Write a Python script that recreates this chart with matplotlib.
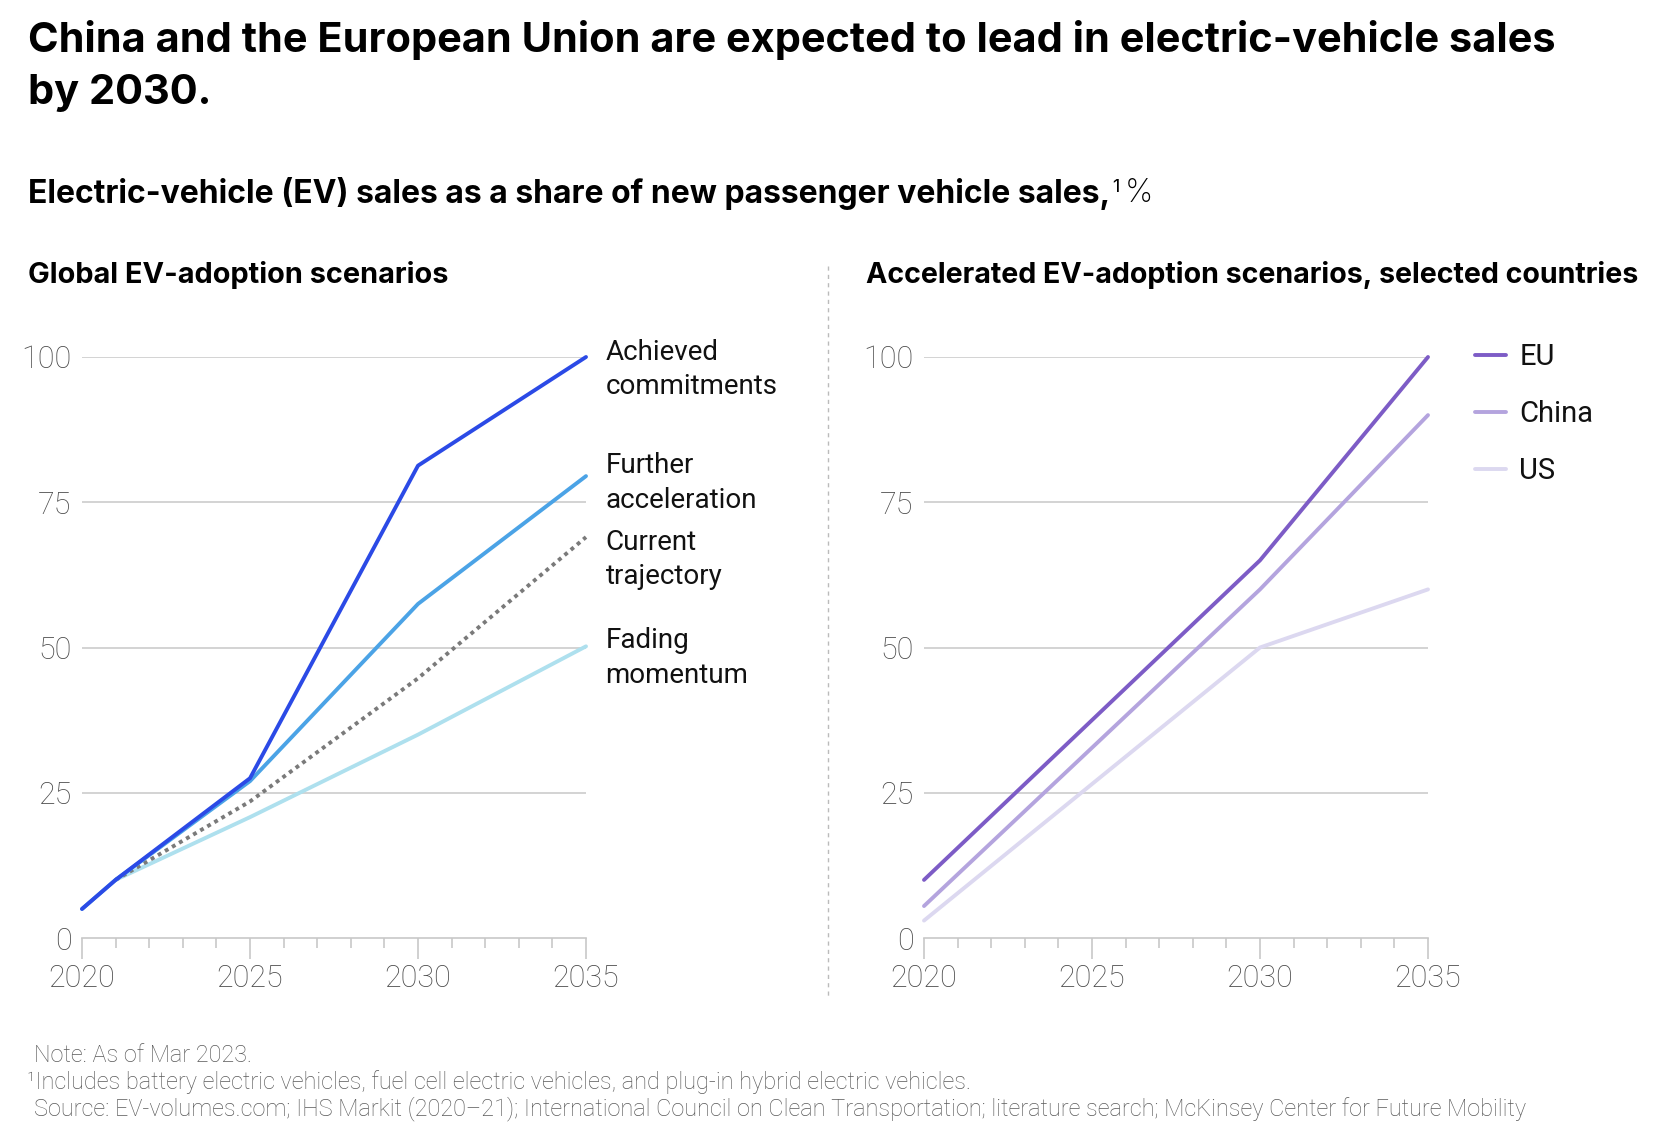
import numpy as np
import matplotlib
matplotlib.use("Agg")
import matplotlib.pyplot as plt
from matplotlib.ticker import MultipleLocator

# data
years_global = [2020, 2021, 2025, 2030, 2035]
achieved = [5, 10, 27.5, 81.3, 100]
further = [5, 10, 27, 57.5, 79.5]
current = [None, 10, 23.5, 44.7, 69]
fading = [None, 10, 20.8, 35, 50.2]
global_names = ["Achieved\ncommitments", "Further\nacceleration",
                "Current\ntrajectory", "Fading\nmomentum"]
global_colors = ["#2b4ae6", "#4ba3e6", "#7a7a7a", "#aee0ee"]
label_y = [97.8, 78.3, 65.1, 48.2]

years_country = [2020, 2030, 2035]
eu = [10, 65, 100]
china = [5.5, 60, 90]
us = [3, 50, 60]
country_names = ["EU", "China", "US"]
country_colors = ["#7d5cc6", "#b4a4de", "#dcd8f0"]

TICK_COLOR = "#4a4a4a"
GRID_COLOR = "#c8c8c8"
BOLD = ["Inter", "DejaVu Sans"]

plt.rcParams["font.family"] = ["Roboto", "DejaVu Sans"]

fig = plt.figure(figsize=(16.62, 11.46), dpi=100)

W, H = 1662.0, 1146.0
def box(x0, x1, ytop, ybot):
    return [x0 / W, 1 - ybot / H, (x1 - x0) / W, (ybot - ytop) / H]

ax1 = fig.add_axes(box(82, 586, 357, 938))
ax2 = fig.add_axes(box(924, 1428, 357, 938))

def style(ax):
    ax.set_xlim(2020, 2035)
    ax.set_ylim(0, 100)
    for s in ["top", "right", "left"]:
        ax.spines[s].set_visible(False)
    ax.spines["bottom"].set_color(GRID_COLOR)
    ax.spines["bottom"].set_linewidth(1.2)
    ax.set_yticks([0, 25, 50, 75, 100])
    ax.set_xticks([2020, 2025, 2030, 2035])
    ax.xaxis.set_minor_locator(MultipleLocator(1))
    ax.tick_params(axis="y", length=0, pad=7.5, labelsize=22, labelcolor=TICK_COLOR)
    ax.tick_params(axis="x", which="major", length=15, width=1.2, color=GRID_COLOR,
                   pad=4, labelsize=22, labelcolor=TICK_COLOR)
    ax.tick_params(axis="x", which="minor", length=7.5, width=1.2, color=GRID_COLOR)
    for lab in ax.get_xticklabels() + ax.get_yticklabels():
        lab.set_fontweight("light")
    for v in [25, 50, 75, 100]:
        ax.axhline(v, color=GRID_COLOR, lw=1.1, zorder=0)

style(ax1)
style(ax2)

# left panel
series = [achieved, further, current, fading]
order = [3, 2, 1, 0]
for i in order:
    xs = [x for x, v in zip(years_global, series[i]) if v is not None]
    ys = [v for v in series[i] if v is not None]
    if i == 2:
        ax1.plot(xs, ys, color=global_colors[i], lw=2.8, ls=(0, (1, 1.1)),
                 clip_on=False, zorder=3)
    else:
        ax1.plot(xs, ys, color=global_colors[i], lw=2.8, clip_on=False,
                 zorder=3 + (3 - i), solid_capstyle="round")
for name, yv in zip(global_names, label_y):
    ax1.annotate(name, xy=(2035, yv), xytext=(14, 0), textcoords="offset points",
                 va="center", ha="left", fontsize=20, color="#111111",
                 linespacing=1.35)

# right panel
for vals, name, col in zip([us, china, eu], country_names[::-1], country_colors[::-1]):
    ax2.plot(years_country, vals, color=col, lw=2.8, clip_on=False,
             solid_capstyle="round", label=name)
handles, labels = ax2.get_legend_handles_labels()
leg = ax2.legend(handles[::-1], labels[::-1], loc="upper left",
                 bbox_to_anchor=(1.094, 1.024), frameon=False, fontsize=21,
                 handlelength=1.05, handletextpad=0.45, labelspacing=1.0,
                 borderpad=0, borderaxespad=0)
for t in leg.get_texts():
    t.set_color("#111111")

# titles
fig.text(28 / W, 1 - 40 / H, "China and the European Union are expected to lead in electric-vehicle sales",
         fontsize=29.9, fontweight="bold", family=BOLD, va="center")
fig.text(28 / W, 1 - 93 / H, "by 2030.",
         fontsize=29.9, fontweight="bold", family=BOLD, va="center")

sub = fig.text(28 / W, 1 - 194 / H, "Electric-vehicle (EV) sales as a share of new passenger vehicle sales,",
               fontsize=23, fontweight="bold", family=BOLD, va="center")
fig.canvas.draw()
bb = sub.get_window_extent()
fig.text(bb.x1 / W + 0.001, 1 - 187 / H, "1", fontsize=13, va="center", family=BOLD)
fig.text(bb.x1 / W + 0.0085, 1 - 194 / H, "%", fontsize=23, va="center",
         family=BOLD, fontweight="light")

fig.text(28 / W, 1 - 275 / H, "Global EV-adoption scenarios", fontsize=20.8,
         fontweight="bold", family=BOLD, va="center")
fig.text(866 / W, 1 - 275 / H, "Accelerated EV-adoption scenarios, selected countries",
         fontsize=20.6, fontweight="bold", family=BOLD, va="center")

# divider between the panels
fig.add_artist(plt.Line2D([828 / W, 828 / W], [1 - 266 / H, 1 - 996 / H],
                          transform=fig.transFigure, color="#bbbbbb", lw=1,
                          ls=(0, (3, 3))))

# footnotes
foot_kw = dict(fontsize=16.9, color="#5a5a5a", va="center", fontweight="light")
fig.text(34 / W, 1 - 1055 / H, "Note: As of Mar 2023.", **foot_kw)
fig.text(27 / W, 1 - 1082 / H,
         "\u00b9Includes battery electric vehicles, fuel cell electric vehicles, and plug-in hybrid electric vehicles.",
         **foot_kw)
fig.text(34 / W, 1 - 1109 / H,
         "Source: EV-volumes.com; IHS Markit (2020\u201321); International Council on Clean Transportation; "
         "literature search; McKinsey Center for Future Mobility", **foot_kw)

fig.savefig("out.png", dpi=100)
